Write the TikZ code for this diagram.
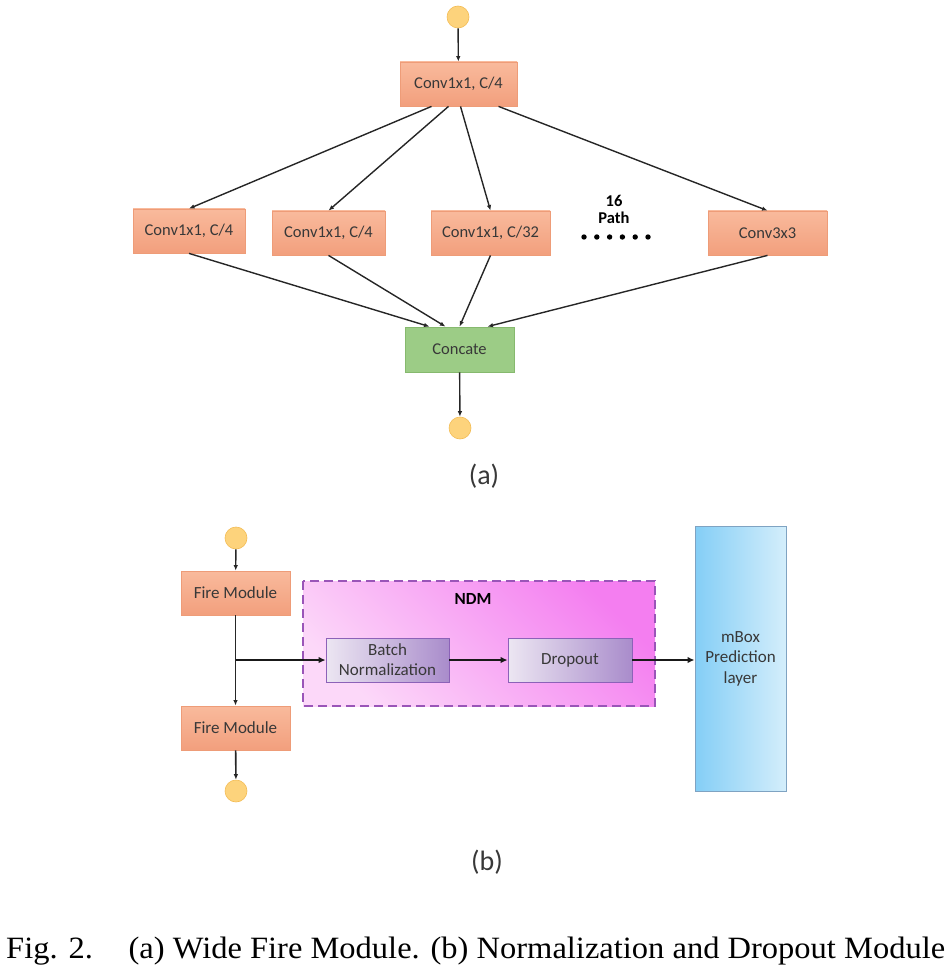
\documentclass[tikz,border=0pt]{standalone}
\usepackage{fontspec}
\setmainfont{Carlito}
\newfontfamily\capfont{Liberation Serif}
\usepackage{graphicx}
\usepackage{tikz}
\usetikzlibrary{arrows.meta}
\usepackage{xcolor}
\definecolor{boxtop}{HTML}{F9BA9C}
\definecolor{boxbot}{HTML}{F29F7D}
\definecolor{boxline}{HTML}{EE9C78}
\definecolor{catfill}{HTML}{9CCC86}
\definecolor{catline}{HTML}{86B96E}
\definecolor{dotfill}{HTML}{FDD37C}
\definecolor{dotline}{HTML}{F3BC55}
\definecolor{ndmlight}{HTML}{FCD8F9}
\definecolor{ndmdark}{HTML}{F47EF0}
\definecolor{ndmline}{HTML}{9A55B8}
\definecolor{layleft}{HTML}{ECE6F2}
\definecolor{layright}{HTML}{A98CCB}
\definecolor{layline}{HTML}{8C62B8}
\definecolor{mbleft}{HTML}{84CEF6}
\definecolor{mbright}{HTML}{D4EEFB}
\definecolor{mbline}{HTML}{7FA3C2}
\definecolor{txt}{HTML}{383838}

\begin{document}
\begin{tikzpicture}[x=1pt,y=-1pt]
				    \tikzstyle{edge}=[draw,line width=1.4pt,black!85,-{Latex[length=5.5pt,width=4.5pt]}]
				    \tikzstyle{thick edge}=[draw,line width=2.4pt,black!90,-{Latex[length=7pt,width=6.5pt]}]
				    \tikzstyle{conv}=[draw=boxline,line width=.8pt,top color=boxtop,bottom color=boxbot,minimum width=117pt,minimum height=44pt,inner sep=0pt,text=txt,font=\fontsize{16.5}{18}\selectfont]
				    \tikzstyle{fire}=[conv,minimum width=109pt,font=\fontsize{17}{18}\selectfont]
				    \tikzstyle{concat}=[draw=catline,line width=.8pt,fill=catfill,minimum width=109pt,minimum height=45pt,inner sep=0pt,text=txt,font=\fontsize{16.5}{18}\selectfont]
				    \tikzstyle{io}=[draw=dotline,line width=.6pt,circle,fill=dotfill,minimum size=22pt,inner sep=0pt]
				    \tikzstyle{layer}=[draw=layline,line width=.8pt,left color=layleft,right color=layright,minimum width=123pt,minimum height=44pt,inner sep=0pt,align=center,text=txt,font=\fontsize{17}{20}\selectfont]
				    \tikzstyle{sub}=[font=\fontsize{28}{30}\selectfont,text=txt]
				    \useasboundingbox (0,0) rectangle (951,973);
				    % (a)
				    \node[io] (ina) at (458,17) {};
				    \node[conv] (top) at (458.5,84) {Conv1x1, C/4};
				    \node[conv,minimum width=112pt] (ca) at (189,231) {Conv1x1, C/4};
				    \node[conv,minimum width=113pt] (cb) at (328.5,233) {Conv1x1, C/4};
				    \node[conv,minimum width=119pt] (cc) at (490.5,233) {Conv1x1, C/32};
				    \node[conv,minimum width=119pt] (cd) at (767.5,233) {Conv3x3};
				    \node[font=\bfseries\fontsize{16.5}{18}\selectfont,align=center] (np) at (614,209) {16\\[-1pt]Path};
				    \foreach \i in {0,...,5}
				        \fill (584+\i*12.8,237) circle (2.7pt);
				    \node[concat] (cat) at (459.5,349.5) {Concate};
				    \node[io] (outa) at (460,428) {};
				    \draw[edge] (ina) -- (top);
				    \draw[edge] ([xshift=-27pt]top.south) -- (ca.north);
				    \draw[edge] ([xshift=-10pt]top.south) -- (cb.north);
				    \draw[edge] ([xshift=2pt]top.south) -- (cc.north);
				    \draw[edge] ([xshift=40pt]top.south) -- (cd.north);
				    \draw[edge] (ca.south) -- ([xshift=-30pt]cat.north);
				    \draw[edge] (cb.south) -- ([xshift=-14pt]cat.north);
				    \draw[edge] (cc.south) -- ([xshift=0pt]cat.north);
				    \draw[edge] (cd.south) -- ([xshift=28pt]cat.north);
				    \draw[edge] (cat) -- (outa);
				    \node[sub] (la) at (484,476) {(a)};
				    % (b)
				    \draw[ndmline,line width=1.8pt,dash pattern=on 9pt off 5pt,top color=ndmdark,bottom color=ndmlight,shading angle=-45] (303,581) rectangle (655,706);
				    \node[font=\bfseries\fontsize{17}{18}\selectfont] (ndm) at (473,599) {NDM};
				    \node[io] (inb) at (236,538) {};
				    \node[fire] (fa) at (235.5,593) {Fire Module};
				    \node[fire] (fb) at (235.5,728) {Fire Module};
				    \node[io] (outb) at (236,791) {};
				    \coordinate (j) at (236,660);
				    \node[layer] (bn) at (387.5,660) {Batch\\Normalization};
				    \node[layer,minimum width=124pt] (drop) at (570,660) {Dropout};
				    \node[draw=mbline,line width=.9pt,left color=mbleft,right color=mbright,minimum width=91pt,minimum height=265pt,inner sep=0pt,align=center,text=txt,font=\fontsize{17}{20.5}\selectfont] (mbox) at (740.5,658.5) {mBox\\Prediction\\layer};
				    \draw[edge] (inb) -- (fa);
				    \draw[edge,line width=1.6pt] (fa) -- (fb);
				    \draw[edge,line width=1.6pt] (fb) -- (outb);
				    \draw[thick edge] (j) -- (bn.west);
				    \draw[thick edge] (bn) -- (drop);
				    \draw[thick edge] (drop.east) -- (drop.east -| mbox.west);
				    \node[sub] (lb) at (487,862) {(b)};
				    % caption
				    \node[anchor=base west,inner sep=0pt,font=\capfont\fontsize{31}{33}\selectfont] (cap) at (6,958) {\resizebox{939pt}{\height}{Fig. 2.\hspace{1.1em}(a) Wide Fire Module. (b) Normalization and Dropout Module}};
				\end{tikzpicture}
\end{document}
